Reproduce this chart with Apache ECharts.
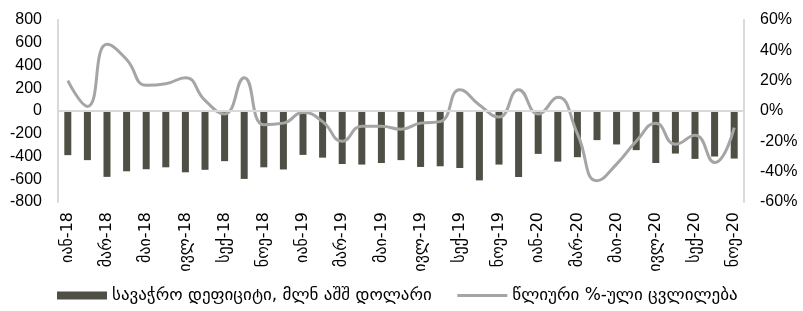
<!DOCTYPE html>
<html>
<head>
<meta charset="utf-8">
<script src="https://cdn.jsdelivr.net/npm/echarts@6/dist/echarts.min.js"></script>
<style>
html, body { margin: 0; padding: 0; background: #fff; }
#chart { width: 803px; height: 311px; }
</style>
</head>
<body>
<div id="chart"></div>
<script>
var months = ['იან', 'თებ', 'მარ', 'აპრ', 'მაი', 'ივნ', 'ივლ', 'აგვ', 'სექ', 'ოქტ', 'ნოე', 'დეკ'];
var categories = [];
for (var y = 18; y <= 20; y++) {
    for (var m = 0; m < 12; m++) {
        if (y === 20 && m > 10) break;
        categories.push(months[m] + '-' + y);
    }
}

// trade deficit, mln USD
var deficit = [
    -388, -432, -579, -530, -512, -495, -539, -517, -441, -597, -495, -514,
    -386, -410, -466, -471, -457, -432, -492, -486, -501, -610, -471, -580,
    -377, -445, -406, -256, -294, -344, -457, -374, -421, -400, -418
];
// yearly change, %
var change = [
    20, 3, 44, 34, 17, 18, 22, 7, -2, 22, -9, -8,
    -1, -7, -20, -10, -10, -12, -8, -7, 14, 4, -4, 14,
    -2, 9, -15, -46, -35, -20, -8, -22, -16, -34, -11
];

var font = "'Liberation Sans', 'DejaVu Sans', Arial, sans-serif";
var geo = "'DejaVu Sans', sans-serif";
var chart = echarts.init(document.getElementById('chart'));

var option = {
    animation: false,
    textStyle: { fontFamily: font },
    grid: { left: 58, right: 59, top: 20, bottom: 109 },
    legend: {
        left: 52,
        bottom: 2,
        itemWidth: 50,
        itemHeight: 8,
        itemGap: 24,
        textStyle: { fontFamily: geo, fontSize: 17, color: '#000' },
        data: [
            { name: 'სავაჭრო დეფიციტი, მლნ აშშ დოლარი', icon: 'rect' },
            {
                name: 'წლიური %-ული ცვლილება',
                itemStyle: { opacity: 0 },
                lineStyle: { width: 3, color: '#a5a5a5' }
            }
        ]
    },
    xAxis: {
        type: 'category',
        data: categories,
        axisLine: { show: false, onZero: false },
        axisTick: { show: false },
        axisLabel: {
            rotate: 90,
            interval: 1,
            margin: 10,
            fontSize: 16,
            color: '#000',
            fontFamily: geo
        }
    },
    yAxis: [
        {
            type: 'value',
            min: -800,
            max: 800,
            interval: 200,
            axisLine: { show: true, lineStyle: { color: '#d9d9d9', width: 2 } },
            axisTick: { show: false },
            splitLine: { show: false },
            axisLabel: { fontSize: 16, color: '#000', margin: 16 }
        },
        {
            type: 'value',
            min: -60,
            max: 60,
            interval: 20,
            axisLine: { show: true, lineStyle: { color: '#d9d9d9', width: 2 } },
            axisTick: { show: false },
            splitLine: { show: false },
            axisLabel: { fontSize: 16, color: '#000', margin: 16, formatter: '{value}%' }
        }
    ],
    series: [
        {
            name: 'სავაჭრო დეფიციტი, მლნ აშშ დოლარი',
            type: 'bar',
            data: deficit,
            barWidth: 7,
            itemStyle: { color: '#4f4f45' },
            markLine: {
                silent: true,
                symbol: 'none',
                label: { show: false },
                lineStyle: { color: '#d9d9d9', type: 'solid', width: 2 },
                data: [{ yAxis: 0 }]
            }
        },
        {
            name: 'წლიური %-ული ცვლილება',
            type: 'line',
            yAxisIndex: 1,
            data: change,
            smooth: 0.5,
            symbol: 'none',
            lineStyle: { color: '#a5a5a5', width: 3 },
            itemStyle: { color: '#a5a5a5' },
            z: 3
        }
    ]
};

chart.setOption(option);
</script>
</body>
</html>
